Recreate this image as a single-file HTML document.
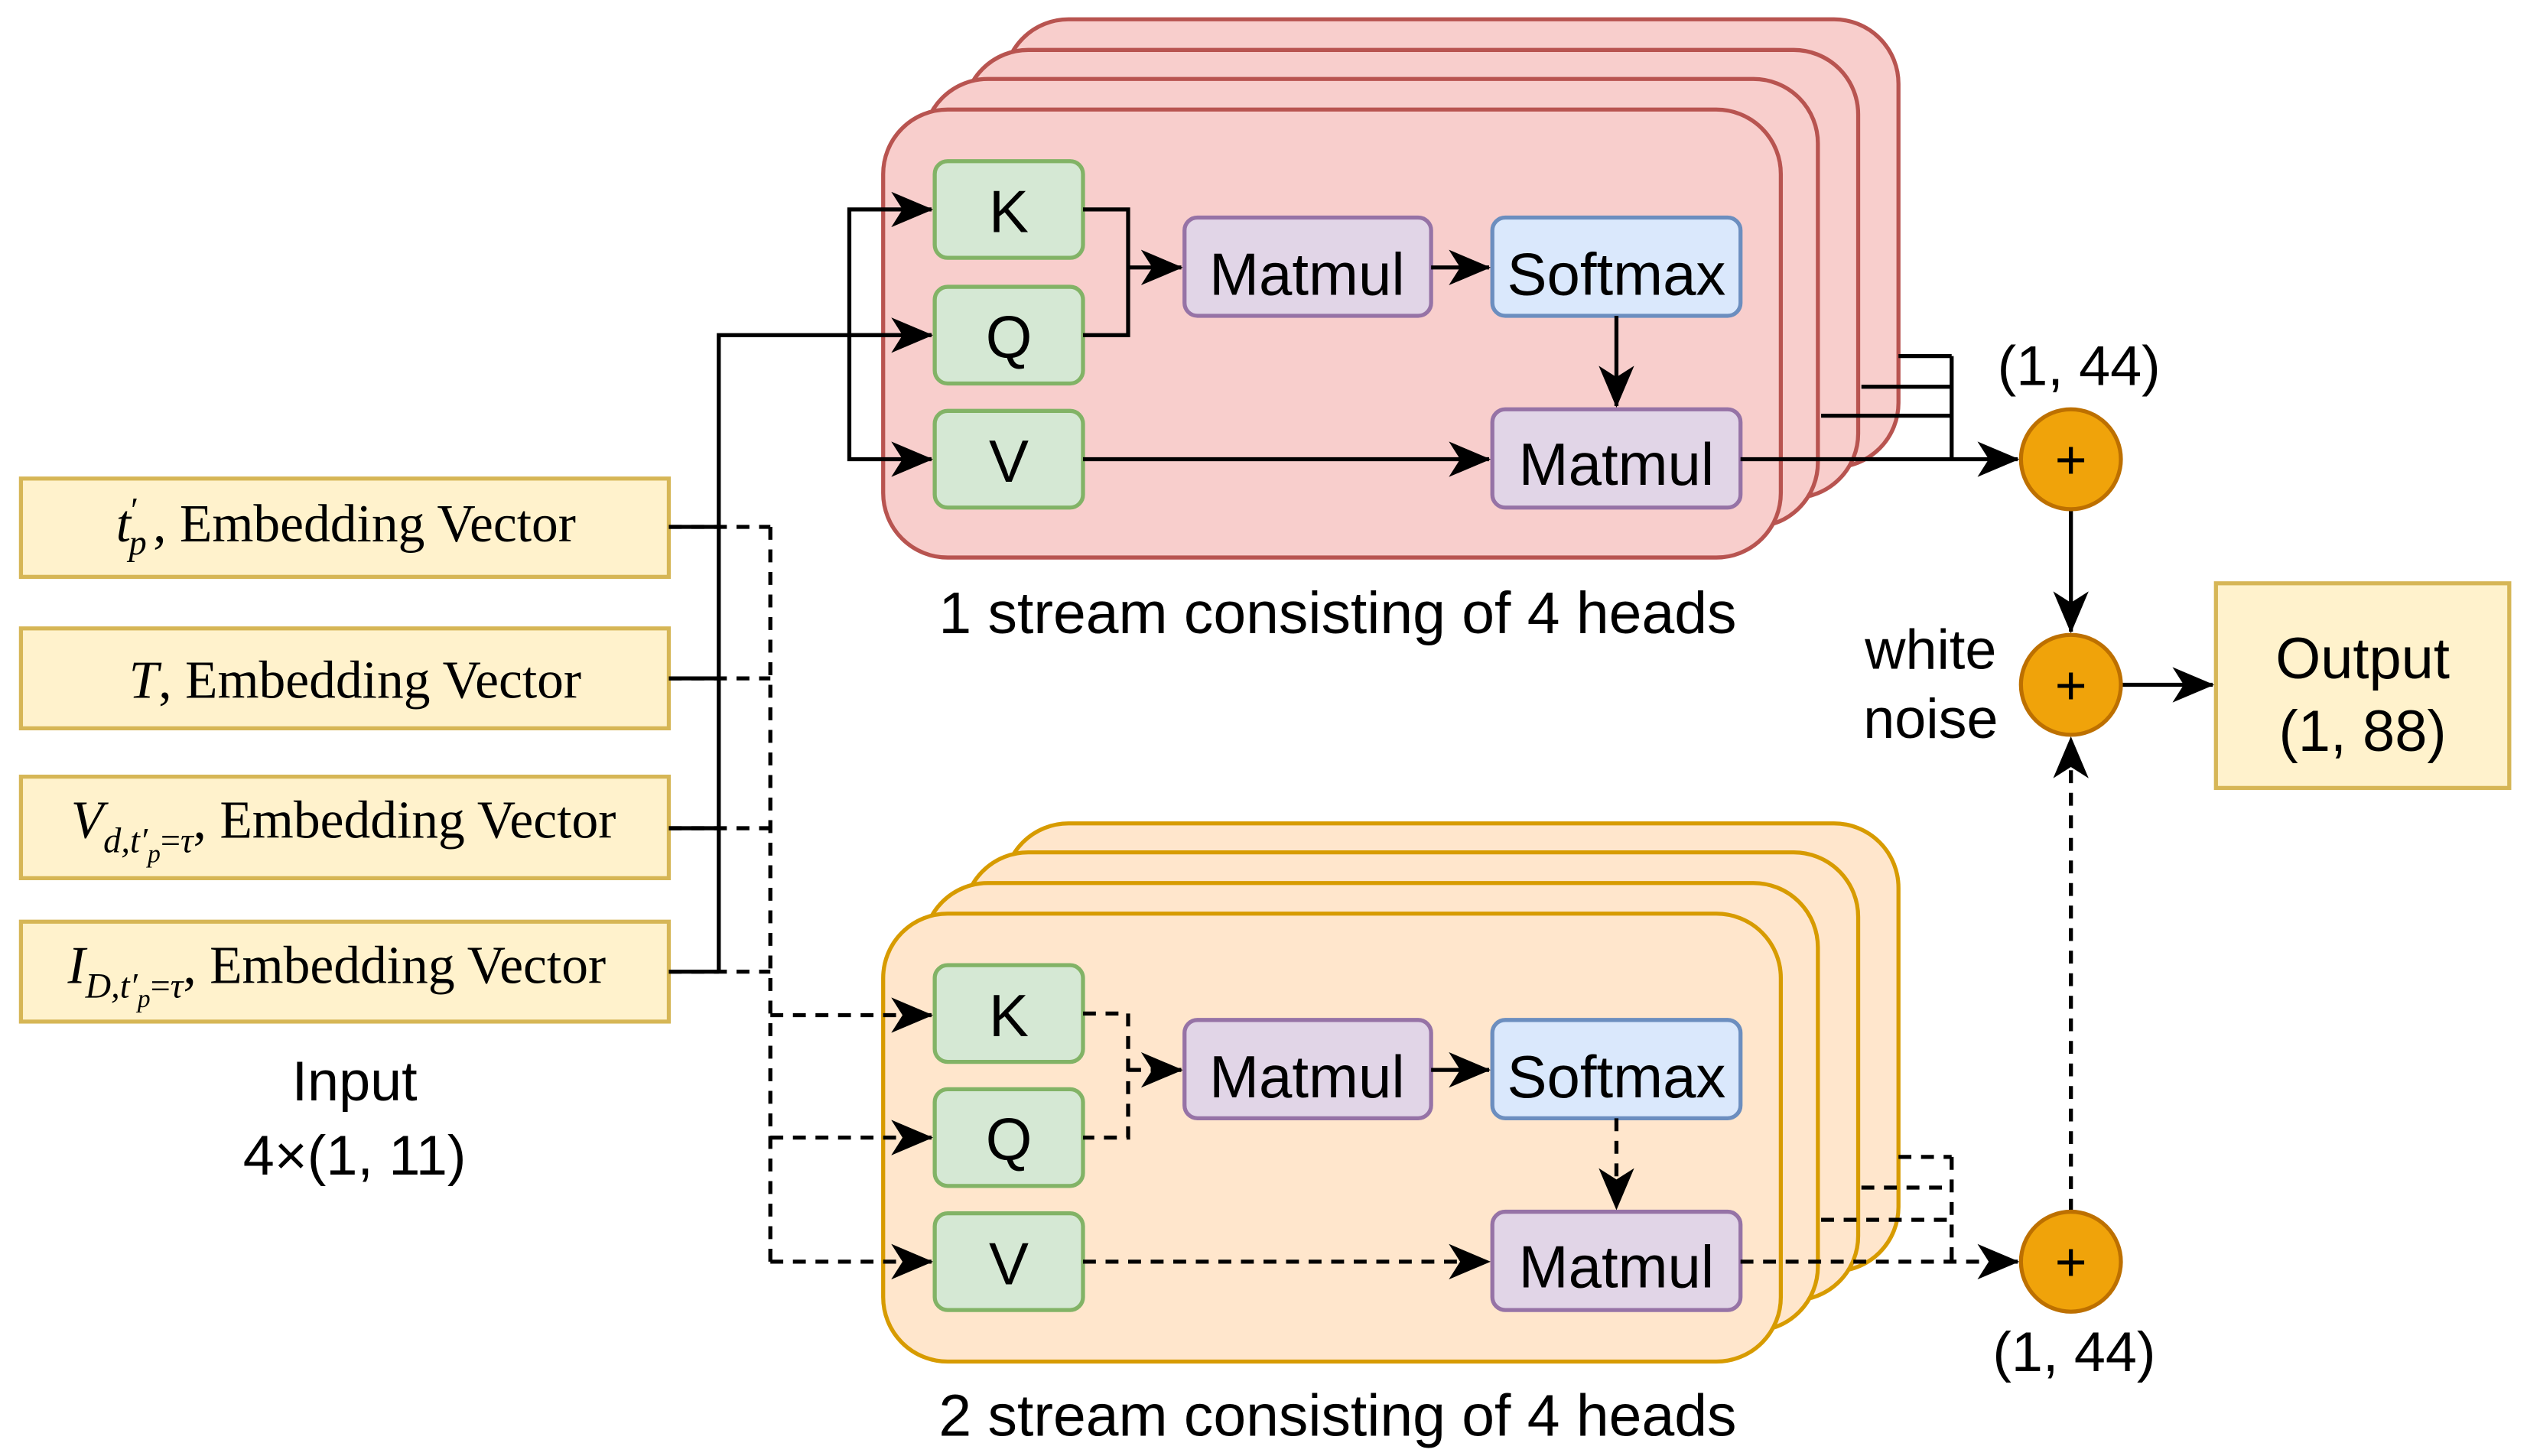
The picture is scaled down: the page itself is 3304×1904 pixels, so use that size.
<!DOCTYPE html>
<html><head><meta charset="utf-8"><style>html,body{margin:0;padding:0;background:#fff}svg{display:block}</style></head><body>
<svg width="3304" height="1904" viewBox="0 0 1568 903.6" xmlns="http://www.w3.org/2000/svg">
<defs>
<marker id="a" viewBox="0 0 26 22" refX="25" refY="11" markerWidth="26" markerHeight="22" markerUnits="userSpaceOnUse" orient="auto"><path d="M0,0 L26,11 L0,22 L7,11 Z" fill="#000"/></marker>
</defs>
<style>
.s{font-family:"Liberation Sans",Arial,sans-serif;fill:#000}
.m{font-family:"Liberation Serif","Times New Roman",serif;fill:#000}
.l{stroke:#000;stroke-width:2.5;fill:none}
.d{stroke:#000;stroke-width:2.5;fill:none;stroke-dasharray:8 6}
</style>
<rect width="1568" height="904" fill="#fff"/>
<g fill="#f8cecc" stroke="#b85450" stroke-width="2.5">
<rect x="623" y="12" width="555" height="278" rx="40"/>
<rect x="598" y="31" width="555" height="278" rx="40"/>
<rect x="573" y="49" width="555" height="278" rx="40"/>
<rect x="548" y="68" width="557" height="278" rx="40"/>
</g>
<g fill="#ffe6cc" stroke="#d79b00" stroke-width="2.5">
<rect x="623" y="511" width="555" height="278" rx="40"/>
<rect x="598" y="529" width="555" height="278" rx="40"/>
<rect x="573" y="548" width="555" height="278" rx="40"/>
<rect x="548" y="567" width="557" height="278" rx="40"/>
</g>
<g stroke-width="2.5">
<rect x="580" y="100" width="92" height="60" rx="8" fill="#d5e8d4" stroke="#82b366"/>
<rect x="580" y="178" width="92" height="60" rx="8" fill="#d5e8d4" stroke="#82b366"/>
<rect x="580" y="255" width="92" height="60" rx="8" fill="#d5e8d4" stroke="#82b366"/>
<rect x="735" y="135" width="153" height="61" rx="8" fill="#e1d5e7" stroke="#9673a6"/>
<rect x="926" y="135" width="154" height="61" rx="8" fill="#dae8fc" stroke="#6c8ebf"/>
<rect x="926" y="254" width="154" height="61" rx="8" fill="#e1d5e7" stroke="#9673a6"/>
<rect x="580" y="599" width="92" height="60" rx="8" fill="#d5e8d4" stroke="#82b366"/>
<rect x="580" y="676" width="92" height="60" rx="8" fill="#d5e8d4" stroke="#82b366"/>
<rect x="580" y="753" width="92" height="60" rx="8" fill="#d5e8d4" stroke="#82b366"/>
<rect x="735" y="633" width="153" height="61" rx="8" fill="#e1d5e7" stroke="#9673a6"/>
<rect x="926" y="633" width="154" height="61" rx="8" fill="#dae8fc" stroke="#6c8ebf"/>
<rect x="926" y="752" width="154" height="61" rx="8" fill="#e1d5e7" stroke="#9673a6"/>
</g>
<g class="s" font-size="37" text-anchor="middle">
<text x="626" y="144">K</text><text x="626" y="222">Q</text><text x="626" y="299">V</text>
<text x="811" y="183">Matmul</text><text x="1003" y="183">Softmax</text><text x="1003" y="301">Matmul</text>
<text x="626" y="643">K</text><text x="626" y="720">Q</text><text x="626" y="797">V</text>
<text x="811" y="681">Matmul</text><text x="1003" y="681">Softmax</text><text x="1003" y="799">Matmul</text>
</g>
<g fill="#fff2cc" stroke="#d6b656" stroke-width="2.5">
<rect x="13" y="297" width="402" height="61"/>
<rect x="13" y="390" width="402" height="62"/>
<rect x="13" y="482" width="402" height="63"/>
<rect x="13" y="572" width="402" height="62"/>
</g>
<g class="m" font-size="33">
<text x="72" y="336"><tspan font-style="italic">t</tspan><tspan dy="-12" font-size="22">′</tspan><tspan dy="20" dx="-6" font-size="22" font-style="italic">p</tspan><tspan dy="-8" dx="4">, Embedding Vector</tspan></text>
<text x="80" y="433"><tspan font-style="italic">T</tspan>, Embedding Vector</text>
<text x="44" y="520"><tspan font-style="italic">V</tspan><tspan dy="9" font-size="22" font-style="italic">d,t′</tspan><tspan dy="6" font-size="16" font-style="italic">p</tspan><tspan dy="-6" font-size="22">=<tspan font-style="italic">τ</tspan></tspan><tspan dy="-9">, Embedding Vector</tspan></text>
<text x="42" y="610"><tspan font-style="italic">I</tspan><tspan dy="9" font-size="22" font-style="italic">D,t′</tspan><tspan dy="6" font-size="16" font-style="italic">p</tspan><tspan dy="-6" font-size="22">=<tspan font-style="italic">τ</tspan></tspan><tspan dy="-9">, Embedding Vector</tspan></text>
</g>
<g class="s" font-size="35" text-anchor="middle">
<text x="220" y="683">Input</text><text x="220" y="729">4×(1, 11)</text>
<text x="1290" y="239">(1, 44)</text><text x="1287" y="851">(1, 44)</text>
<text x="1198" y="415">white</text><text x="1198" y="458">noise</text>
</g>
<g class="s" font-size="36.5" text-anchor="middle">
<text x="830" y="393">1 stream consisting of 4 heads</text>
<text x="830" y="891">2 stream consisting of 4 heads</text>
</g>
<path class="l" d="M415,327 H446 M415,421 H446 M415,514 H446 M415,603 H446 M446,603 V208 H578"/>
<path class="l" d="M527,208 V130 H578" marker-end="url(#a)"/>
<path class="l" d="M527,208 V285 H578" marker-end="url(#a)"/>
<path class="l" d="M527,208 H578" marker-end="url(#a)"/>
<path class="l" d="M672,130 H700 V208 H672 M700,166 H733" marker-end="url(#a)"/>
<path class="l" d="M888,166 H924" marker-end="url(#a)"/>
<path class="l" d="M1003,196 V252" marker-end="url(#a)"/>
<path class="l" d="M672,285 H924" marker-end="url(#a)"/>
<path class="l" d="M1178,221 H1211 M1155,240 H1211 M1130,258 H1211 M1211,221 V285"/>
<path class="l" d="M1080,285 H1252" marker-end="url(#a)"/>
<path class="l" d="M1285,316 V392" marker-end="url(#a)"/>
<path class="l" d="M1316,425 H1373" marker-end="url(#a)"/>
<path class="d" d="M415,327 H478 M415,421 H478 M415,514 H478 M415,603 H478 M478,327 V783"/>
<path class="d" d="M478,630 H578" marker-end="url(#a)"/>
<path class="d" d="M478,706 H578" marker-end="url(#a)"/>
<path class="d" d="M478,783 H578" marker-end="url(#a)"/>
<path class="d" d="M672,629 H700 V706 H672 M700,664 H733" marker-end="url(#a)"/>
<path class="l" d="M888,664 H924" marker-end="url(#a)"/>
<path class="d" d="M1003,694 V750" marker-end="url(#a)"/>
<path class="d" d="M672,783 H924" marker-end="url(#a)"/>
<path class="d" d="M1178,718 H1211 M1155,737 H1211 M1130,757 H1211 M1211,718 V783"/>
<path class="d" d="M1080,783 H1252" marker-end="url(#a)"/>
<path class="d" d="M1285,752 V458" marker-end="url(#a)"/>
<g fill="#f0a30a" stroke="#bd7000" stroke-width="2.5">
<ellipse cx="1285" cy="285" rx="31" ry="31"/>
<ellipse cx="1285" cy="425" rx="31" ry="31"/>
<ellipse cx="1285" cy="783" rx="31" ry="31"/>
</g>
<g class="s" font-size="34" text-anchor="middle">
<text x="1285" y="297">+</text><text x="1285" y="437">+</text><text x="1285" y="795">+</text>
</g>
<rect x="1375" y="362" width="182" height="127" fill="#fff2cc" stroke="#d6b656" stroke-width="2.5"/>
<g class="s" font-size="36" text-anchor="middle">
<text x="1466" y="421">Output</text><text x="1466" y="466">(1, 88)</text>
</g>
</svg>
</body></html>
